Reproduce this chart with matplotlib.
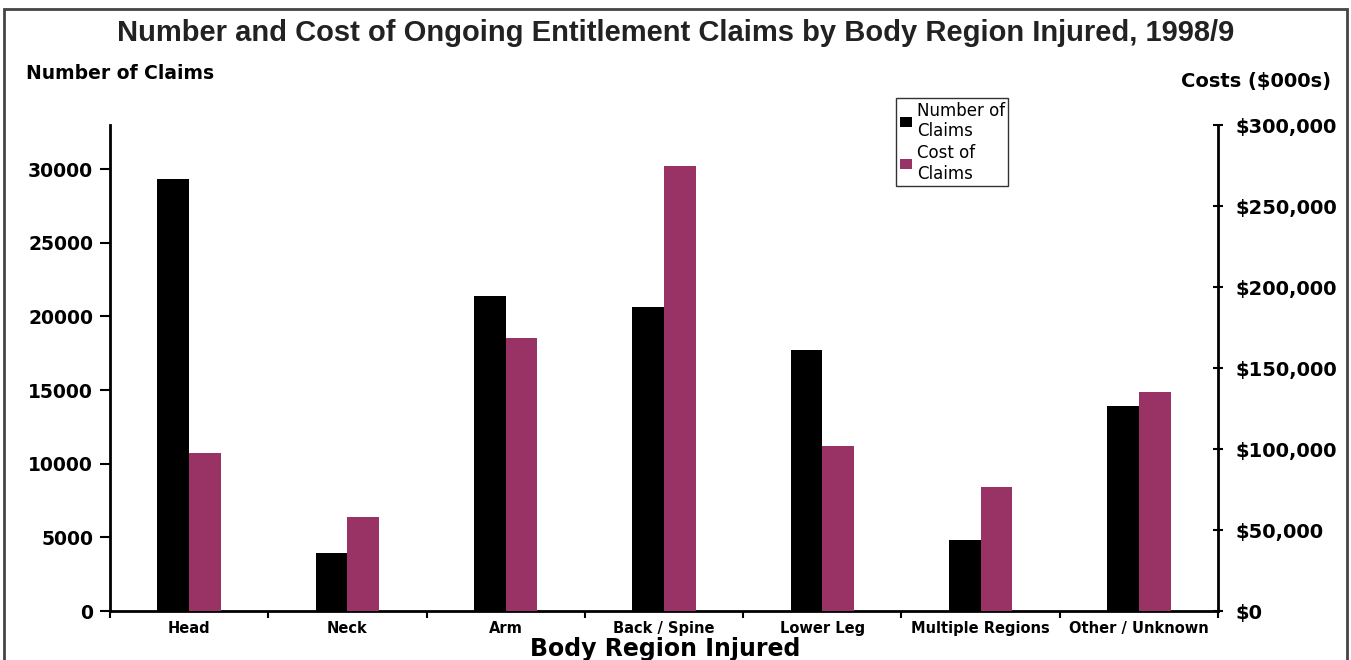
import numpy as np
import matplotlib
matplotlib.use("Agg")
import matplotlib.pyplot as plt
from matplotlib.patches import Rectangle
from matplotlib.ticker import FuncFormatter

regions = ["Head", "Neck", "Arm", "Back / Spine", "Lower Leg", "Multiple Regions", "Other / Unknown"]
num_claims = [29300, 3950, 21400, 20650, 17700, 4850, 13900]
cost_claims = [97500, 58000, 168500, 274500, 102000, 76500, 135000]  # $000s

left_ticks = [0, 5000, 10000, 15000, 20000, 25000, 30000]
right_ticks = [0, 50000, 100000, 150000, 200000, 250000, 300000]

plt.rcParams['font.family'] = ['DejaVu Sans']

fig = plt.figure(figsize=(13.51, 6.6), dpi=100)
ax = fig.add_axes([0.0814, 0.0742, 0.8202, 0.7364])
ax2 = ax.twinx()

x = np.arange(len(regions))
w = 0.2
ax.bar(x - w / 2, num_claims, w, color="black", label="Number of\nClaims")
ax2.bar(x + w / 2, cost_claims, w, color="#993366", label="Cost of\nClaims")

ax.set_xlim(-0.5, len(regions) - 0.5)
ax.set_ylim(0, 33000)
ax2.set_ylim(0, 300000)

ax.set_yticks(left_ticks)
ax.set_yticklabels([str(v) for v in left_ticks], fontsize=13.5, fontweight="bold")
ax2.set_yticks(right_ticks)
ax2.yaxis.set_major_formatter(FuncFormatter(lambda v, p: "${:,.0f}".format(v)))
for t in ax2.get_yticklabels():
    t.set_fontsize(14)
    t.set_fontweight("bold")

ax.set_xticks(np.arange(len(regions) + 1) - 0.5)
ax.set_xticklabels([])
ax.set_xticks(x, minor=True)
ax.set_xticklabels(regions, minor=True, fontsize=10.5, fontweight="bold")
ax.tick_params(axis="x", which="minor", length=0, pad=7)
ax.tick_params(axis="x", which="major", length=5, width=1.5, direction="out")
ax.tick_params(axis="y", length=7, width=1.5, direction="out", pad=5)
ax2.tick_params(axis="y", length=7, width=1.5, direction="inout", pad=9)

for a in (ax, ax2):
    a.spines["top"].set_visible(False)
    for s in ("left", "right", "bottom"):
        a.spines[s].set_linewidth(2)
ax.spines["right"].set_visible(False)
ax2.spines["left"].set_visible(False)
ax2.spines["bottom"].set_visible(False)

fig.text(0.5, 0.95, "Number and Cost of Ongoing Entitlement Claims by Body Region Injured, 1998/9",
         ha="center", va="center", fontsize=21, fontweight="bold", family="Liberation Sans",
         color="#222222")
fig.text(0.019, 0.889, "Number of Claims", ha="left", va="center", fontsize=13.5, fontweight="bold")
fig.text(0.985, 0.876, "Costs ($000s)", ha="right", va="center", fontsize=14, fontweight="bold")
fig.text(0.492, 0.016, "Body Region Injured", ha="center", va="center", fontsize=17, fontweight="bold")

h1, l1 = ax.get_legend_handles_labels()
h2, l2 = ax2.get_legend_handles_labels()
leg = ax2.legend(h1 + h2, l1 + l2, loc="upper left", bbox_to_anchor=(0.702, 1.072),
                 frameon=True, fancybox=False, edgecolor="black", fontsize=12,
                 handlelength=0.75, handleheight=0.55, handletextpad=0.3, labelspacing=0.2,
                 borderpad=0.2)
leg.get_frame().set_linewidth(1)

fig.patches.append(Rectangle((0.003, -0.01), 0.994, 0.997, transform=fig.transFigure,
                             fill=False, edgecolor="#444444", linewidth=2))

fig.savefig("out.png", dpi=100)
